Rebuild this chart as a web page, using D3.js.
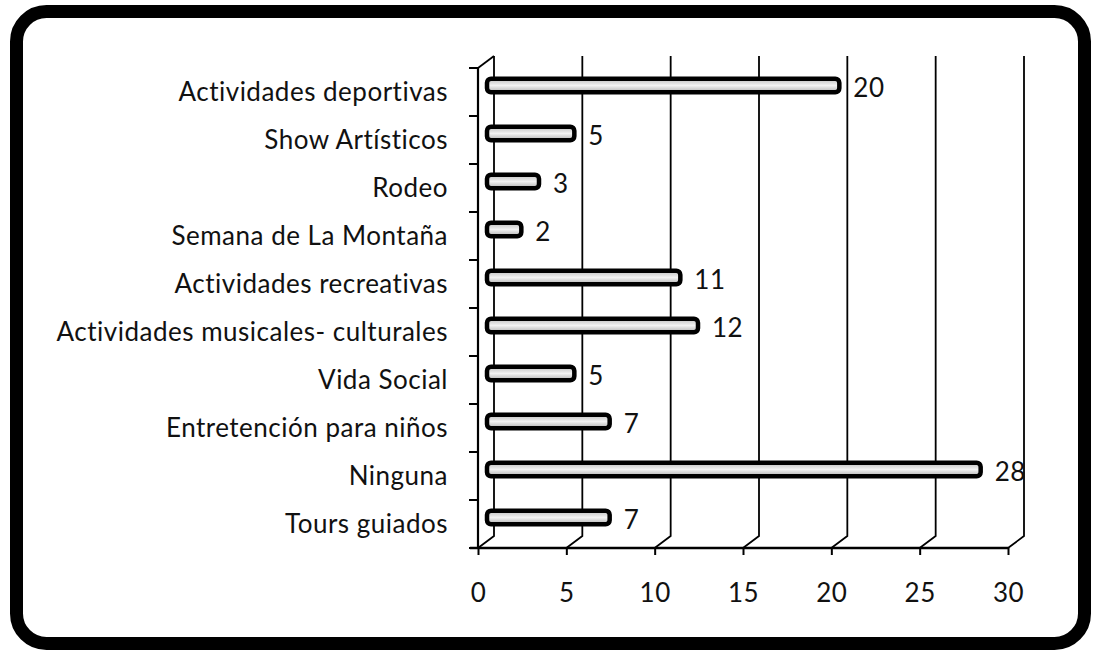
<!DOCTYPE html>
<html><head><meta charset="utf-8">
<script src="https://cdn.jsdelivr.net/npm/d3@7"></script>
<style>html,body{margin:0;padding:0;background:#fff;}svg{display:block;}</style>
</head><body>
<svg id="c" width="1093" height="651"></svg>
<script>
const categories = ["Actividades deportivas","Show Artísticos","Rodeo","Semana de La Montaña","Actividades recreativas","Actividades musicales- culturales","Vida Social","Entretención para niños","Ninguna","Tours guiados"];
const values = [20,5,3,2,11,12,5,7,28,7];
const tickValues = [0,5,10,15,20,25,30];

const svg = d3.select("#c");
const font = "Lato, 'Open Sans', sans-serif";
const fs = 26, ls = 0.5;

// border
svg.append("rect").attr("x",16.5).attr("y",11.5).attr("width",1068).attr("height",632)
  .attr("rx",30).attr("fill","#fff").attr("stroke","#000").attr("stroke-width",13);

const x = d3.scaleLinear().domain([0,30]).range([478,1008]);
const y = d3.scaleBand().domain(categories).range([68,548]).paddingInner(0).paddingOuter(0);
const DX = 16, DY = -12; // depth offset

const defs = svg.append("defs");
const g1 = defs.append("linearGradient").attr("id","barg").attr("x1",0).attr("y1",0).attr("x2",0).attr("y2",1);
g1.append("stop").attr("offset","0%").attr("stop-color","#bdbdbd");
g1.append("stop").attr("offset","50%").attr("stop-color","#f2f2f2");
g1.append("stop").attr("offset","100%").attr("stop-color","#b0b0b0");

// back wall gridlines
const grid = svg.append("g").attr("stroke","#000").attr("stroke-width",1.8).attr("fill","none");
tickValues.forEach(v => {
  grid.append("path").attr("d",
    `M${x(v)+DX},${68+DY} L${x(v)+DX},${548+DY} L${x(v)},548`);
});
// left side wall edges
grid.append("path").attr("d",`M${x(0)},68 L${x(0)+DX},${68+DY}`);
svg.append("line").attr("x1",x(0)).attr("x2",x(0)).attr("y1",68).attr("y2",548)
  .attr("stroke","#000").attr("stroke-width",2.2);

// bottom axis
svg.append("line").attr("x1",x(0)-8).attr("x2",x(30)).attr("y1",548).attr("y2",548)
  .attr("stroke","#000").attr("stroke-width",2.4);
const xAxis = d3.axisBottom(x).tickValues(tickValues).tickSize(7).tickPadding(29).tickFormat(d3.format("d"));
const xa = svg.append("g").attr("transform","translate(0,548)").call(xAxis);
xa.select(".domain").remove();
xa.selectAll(".tick line").attr("stroke","#000").attr("stroke-width",2);
xa.selectAll(".tick text").attr("font-family",font).attr("font-size",fs).attr("letter-spacing",ls).attr("fill","#111");

// left axis ticks
const yTicks = d3.range(categories.length+1).map(i => 68 + i*y.step());
svg.append("g").selectAll("line").data(yTicks).join("line")
  .attr("x1",x(0)-9).attr("x2",x(0)).attr("y1",d=>d).attr("y2",d=>d)
  .attr("stroke","#000").attr("stroke-width",2);

// category labels
const yAxis = d3.axisLeft(y).tickSize(0).tickPadding(30);
const ya = svg.append("g").attr("transform",`translate(${x(0)},0)`).call(yAxis);
ya.select(".domain").remove();
ya.selectAll(".tick text").attr("font-family",font).attr("font-size",fs).attr("letter-spacing",ls)
  .attr("fill","#111").attr("dy","0.36em");

// bars at mid-depth
const bh = 13.5;
const bars = svg.append("g");
categories.forEach((c,i) => {
  const cy = y(c) + y.bandwidth()/2 + DY/2 - 0.5;
  const x0 = x(0) + DX/2 + 1;
  const x1 = x(values[i]) + DX/2;
  bars.append("rect").attr("x",x0).attr("y",cy-bh/2).attr("width",Math.max(x1-x0,4)).attr("height",bh)
    .attr("rx",4).attr("fill","url(#barg)").attr("stroke","#000").attr("stroke-width",4.5);
  bars.append("text").attr("x",x1+14).attr("y",cy).attr("dy","0.45em")
    .attr("font-family",font).attr("font-size",fs).attr("letter-spacing",ls).attr("fill","#111").text(values[i]);
});
</script>
</body></html>
